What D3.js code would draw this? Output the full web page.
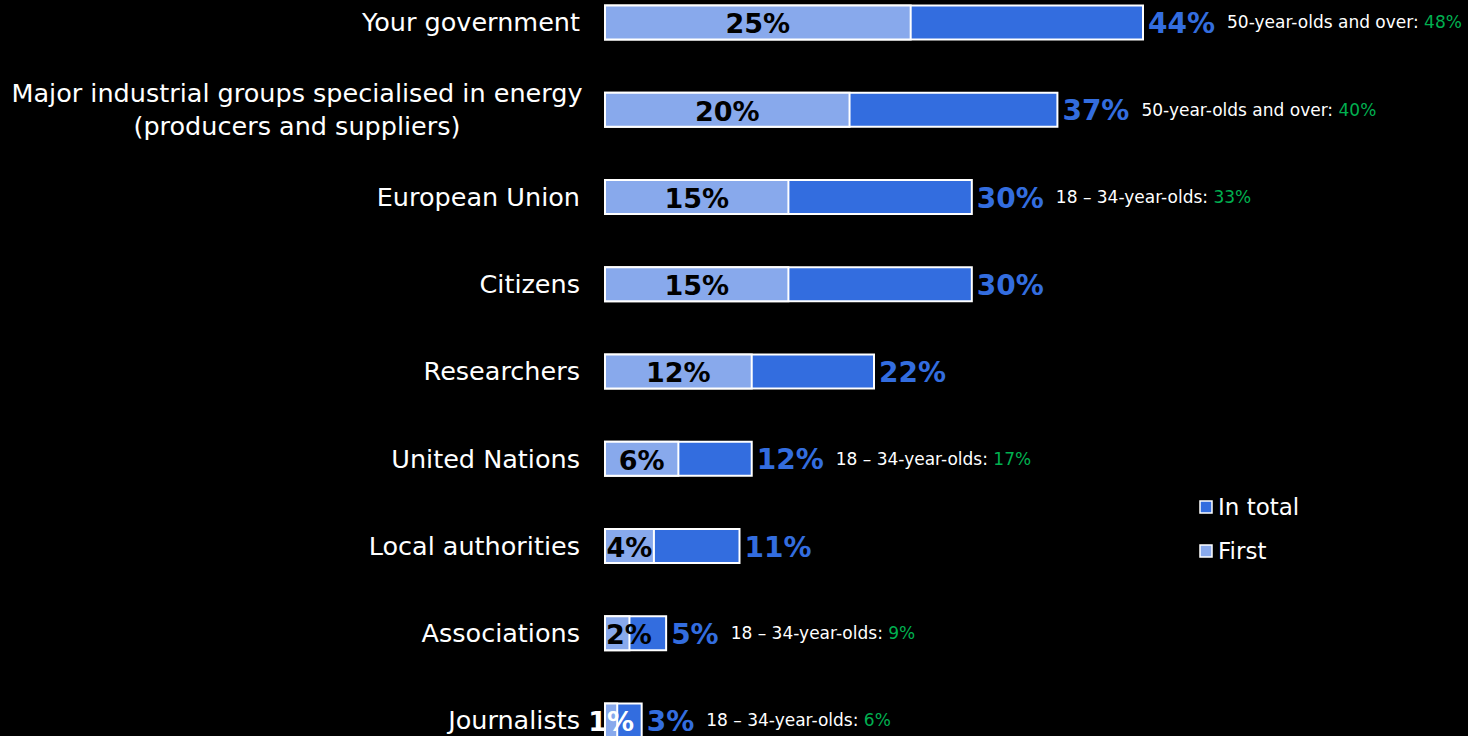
<!DOCTYPE html>
<html>
<head>
<meta charset="utf-8">
<script src="https://cdn.jsdelivr.net/npm/d3@7"></script>
<style>
  body { margin: 0; background: #000; }
  svg { display: block; }
  text { font-family: "DejaVu Sans", sans-serif; }
</style>
</head>
<body>
<div id="chart"></div>
<script>
// data
var categories = [
  "Your government",
  "Major industrial groups specialised in energy|(producers and suppliers)",
  "European Union",
  "Citizens",
  "Researchers",
  "United Nations",
  "Local authorities",
  "Associations",
  "Journalists"
];
var firstValues = [25, 20, 15, 15, 12, 6, 4, 2, 1];
var totalValues = [44, 37, 30, 30, 22, 12, 11, 5, 3];
var noteLabels = ["50-year-olds and over: ", "50-year-olds and over: ", "18 – 34-year-olds: ", "", "", "18 – 34-year-olds: ", "", "18 – 34-year-olds: ", "18 – 34-year-olds: "];
var noteValues = [48, 40, 33, null, null, 17, null, 9, 6];
var legendLabels = ["In total", "First"];

var width = 1468, height = 736;
var darkBlue = "#336ddf", lightBlue = "#88a9ec", green = "#00b050";

var svg = d3.select("#chart").append("svg")
  .attr("width", width)
  .attr("height", height);

var x = d3.scaleLinear().domain([0, 44]).range([605, 1143]);
var y = d3.scalePoint().domain(d3.range(categories.length)).range([22.5, 720.5]);
var barH = 34;

var rows = categories.map(function (c, i) {
  return { name: c, first: firstValues[i], total: totalValues[i],
           note: noteLabels[i], noteVal: noteValues[i], i: i };
});

var row = svg.append("g").selectAll("g")
  .data(rows)
  .enter().append("g")
  .attr("transform", function (d) { return "translate(0," + y(d.i) + ")"; });

// category labels
row.each(function (d) {
  var lines = d.name.split("|");
  var t = d3.select(this).append("text")
    .attr("fill", "#fff")
    .attr("font-size", 25.5)
    .attr("text-anchor", lines.length > 1 ? "middle" : "end")
    .attr("x", lines.length > 1 ? 297 : 580);
  lines.forEach(function (l, k) {
    t.append("tspan")
      .attr("x", lines.length > 1 ? 297 : 580)
      .attr("y", (k - (lines.length - 1) / 2) * 33)
      .attr("dy", "0.35em")
      .text(l);
  });
});

// total bars
row.append("rect")
  .attr("x", x(0))
  .attr("y", -barH / 2)
  .attr("width", function (d) { return x(d.total) - x(0); })
  .attr("height", barH)
  .attr("fill", darkBlue)
  .attr("stroke", "#fff")
  .attr("stroke-width", 2);

// first bars
row.append("rect")
  .attr("x", x(0))
  .attr("y", -barH / 2)
  .attr("width", function (d) { return x(d.first) - x(0); })
  .attr("height", barH)
  .attr("fill", lightBlue)
  .attr("stroke", "#fff")
  .attr("stroke-width", 2);

// first value labels
row.append("text")
  .attr("font-size", 27)
  .attr("font-weight", "bold")
  .attr("dy", "0.4em")
  .attr("text-anchor", "middle")
  .attr("fill", function (d) { return (x(d.first) - x(0)) < 20 ? "#fff" : "#000"; })
  .text(function (d) { return d.first + "%"; })
  .attr("x", function (d) {
    var c = (x(0) + x(d.first)) / 2;
    if (x(d.first) - x(0) < 20) return c;
    var w = this.getComputedTextLength();
    return Math.max(c, x(0) + w / 2 + 1);
  });

// total value labels
var totalLbl = row.append("text")
  .attr("x", function (d) { return x(d.total) + 5; })
  .attr("dy", "0.38em")
  .attr("font-size", 28)
  .attr("font-weight", "bold")
  .attr("fill", darkBlue)
  .text(function (d) { return d.total + "%"; });

// sub-group notes
row.filter(function (d) { return d.noteVal != null; })
  .append("text")
  .attr("font-size", 17)
  .attr("dy", "0.35em")
  .attr("fill", "#fff")
  .attr("x", function (d) {
    var w = totalLbl.filter(function (e) { return e === d; }).node().getComputedTextLength();
    return x(d.total) + 5 + w + 12;
  })
  .each(function (d) {
    var t = d3.select(this);
    t.append("tspan").text(d.note);
    t.append("tspan").attr("fill", green).text(d.noteVal + "%");
  });

// legend
var legend = svg.append("g").selectAll("g")
  .data(legendLabels)
  .enter().append("g")
  .attr("transform", function (d, i) { return "translate(1200," + (507 + i * 44) + ")"; });

legend.append("rect")
  .attr("x", 0).attr("y", -6).attr("width", 12).attr("height", 12)
  .attr("fill", function (d, i) { return i === 0 ? darkBlue : lightBlue; })
  .attr("stroke", "#fff").attr("stroke-width", 1.5);

legend.append("text")
  .attr("x", 18)
  .attr("dy", "0.36em")
  .attr("font-size", 23)
  .attr("fill", "#fff")
  .text(function (d) { return d; });
</script>
</body>
</html>
